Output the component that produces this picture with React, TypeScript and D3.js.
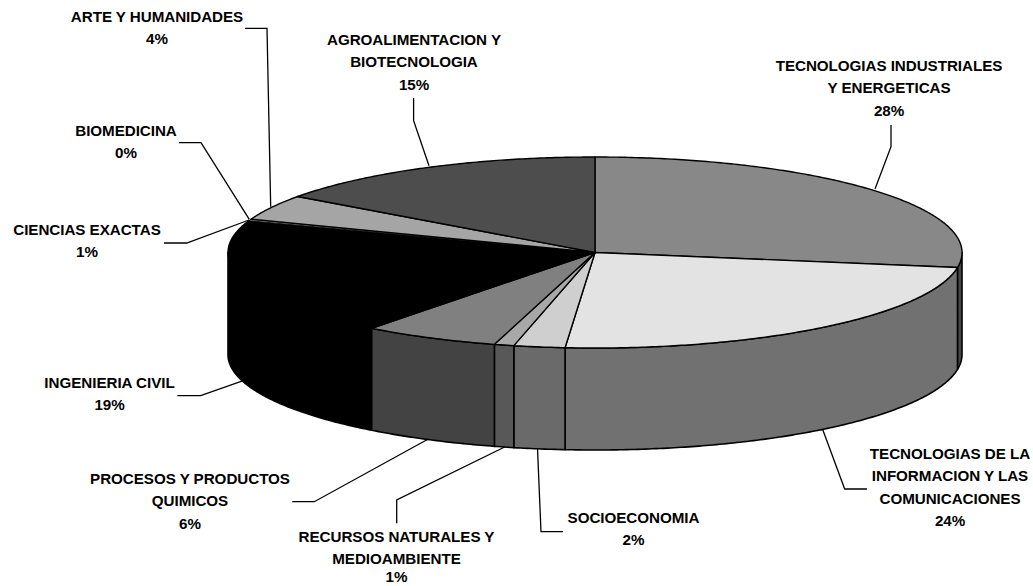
import React from "react";
import * as d3 from "d3";

// Shares (clockwise from 12 o'clock)
const categories = [
  "TECNOLOGIAS INDUSTRIALES|Y ENERGETICAS",
  "TECNOLOGIAS DE LA|INFORMACION Y LAS|COMUNICACIONES",
  "SOCIOECONOMIA",
  "RECURSOS NATURALES Y|MEDIOAMBIENTE",
  "PROCESOS Y PRODUCTOS|QUIMICOS",
  "INGENIERIA CIVIL",
  "CIENCIAS EXACTAS",
  "BIOMEDICINA",
  "ARTE Y HUMANIDADES",
  "AGROALIMENTACION Y|BIOTECNOLOGIA",
];
const shares = [27.5, 23.8, 2.25, 0.87, 6, 19, 0.98, 0.27, 4.3, 15.03];
const percentLabels = ["28%", "24%", "2%", "1%", "6%", "19%", "1%", "0%", "4%", "15%"];

// Styling and layout, parallel to the arrays above
const topColors = ["#888888", "#e3e3e3", "#cfcfcf", "#a8a8a8", "#808080", "#000000", "#000000", "#b0b0b0", "#a5a5a5", "#4d4d4d"];
const wallColors = ["#484848", "#717171", "#6a6a6a", "#585858", "#434343", "#000000", "#000000", "#000000", "#000000", "#000000"];
const topStroke = [1.4, 1.4, 1.4, 1.4, 1.4, 1.4, 1.4, 0.8, 1.4, 1.4];
const labelCenterX = [889, 950, 633.5, 396.5, 190, 109.5, 87, 126, 157, 414];
const labelFirstY = [66, 454, 518, 536.7, 479, 383, 230, 130.7, 16.7, 40];
const lineGap = 22.2;
const leaders: [number, number][][] = [
  [[891, 125], [891, 146.7], [875, 189]],
  [[867, 489], [844.7, 489], [822.5, 429]],
  [[563, 531.7], [541, 531.7], [537.5, 448.3]],
  [[396.7, 523.3], [396.7, 500], [506.7, 446]],
  [[292.3, 501.7], [314.3, 501.7], [428.3, 439]],
  [[177.3, 395.7], [200.7, 395.7], [243.3, 380.7]],
  [[164, 243], [186.7, 243], [249, 220]],
  [[179, 142.7], [201, 142.7], [249.3, 219.3]],
  [[245, 28.3], [267, 28.3], [270.7, 206.7]],
  [[413.6, 98], [413.6, 120.7], [429, 165.7]],
];

const cx = 595, cy = 252.5, rx = 367, ry = 95.5, depth = 102;
const sx = d3.scaleLinear().domain([-1, 1]).range([cx - rx, cx + rx]);
const sy = d3.scaleLinear().domain([-1, 1]).range([cy - ry, cy + ry]);

const arcs = d3.pie<number>().sort(null).value((d) => d)(shares);
const line = d3.line();

function rim(a0: number, a1: number, dy = 0): [number, number][] {
  const n = Math.max(2, Math.ceil((a1 - a0) / 0.01));
  return d3.range(n + 1).map((i) => {
    const t = a0 + ((a1 - a0) * i) / n;
    return [sx(Math.sin(t)), sy(-Math.cos(t)) + dy] as [number, number];
  });
}

export default function App() {
  return (
    <svg width={1033} height={586} style={{ position: "absolute", left: 0, top: 0, display: "block", background: "#fff" }}>
      <g fill="none" stroke="#000" strokeWidth={1.3}>
        {leaders.map((p, i) => (
          <path key={i} d={line(p) as string} />
        ))}
      </g>
      <g stroke="#000" strokeWidth={1.6} strokeLinejoin="round">
        {arcs.map((a, i) => {
          const a0 = Math.max(a.startAngle, Math.PI / 2);
          const a1 = Math.min(a.endAngle, (3 * Math.PI) / 2);
          if (a1 <= a0) return null;
          const pts = [...rim(a0, a1), ...rim(a0, a1, depth).reverse()];
          return <path key={i} d={(line(pts) as string) + "Z"} fill={wallColors[i]} />;
        })}
      </g>
      <g stroke="#000" strokeLinejoin="round">
        {arcs.map((a, i) => {
          const pts: [number, number][] = [[cx, cy], ...rim(a.startAngle, a.endAngle)];
          return <path key={i} d={(line(pts) as string) + "Z"} fill={topColors[i]} strokeWidth={topStroke[i]} />;
        })}
      </g>
      <g fontFamily="'Liberation Sans', Arial, sans-serif" fontWeight="bold" fontSize={15.2} fill="#000" textAnchor="middle" letterSpacing={-0.05}>
        {categories.map((c, i) =>
          [...c.split("|"), percentLabels[i]].map((t, j) => (
            <text key={i + "-" + j} x={labelCenterX[i]} y={Math.min(labelFirstY[i] + j * lineGap + 5.2, 582)}>
              {t}
            </text>
          ))
        )}
      </g>
    </svg>
  );
}
